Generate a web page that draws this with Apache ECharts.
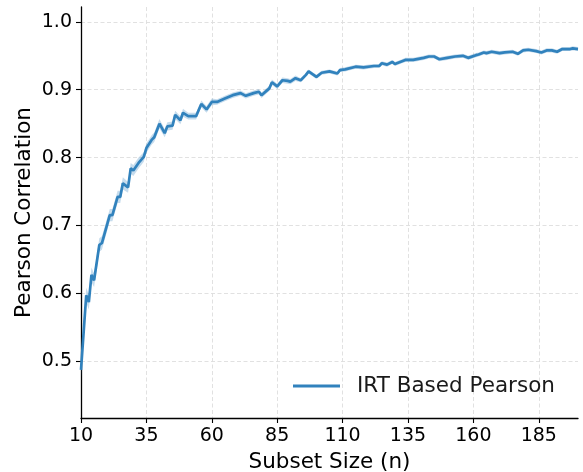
<!DOCTYPE html>
<html>
<head>
<meta charset="utf-8">
<script src="https://cdn.jsdelivr.net/npm/echarts@6/dist/echarts.min.js"></script>
<style>
html,body{margin:0;padding:0;background:#fff;}
#chart{width:583px;height:472px;}
</style>
</head>
<body>
<div id="chart"></div>
<script>
// Subset size n (x) and mean Pearson correlation (y)
const subsetSize = [10,12,13,14,15,17,18,21,22,24,25,26,28,29,30,32,34,35,37,38,40,42,43,45,46,48,49,51,54,55,56,58,60,62,65,68,71,73,76,78,79,82,83,85,87,89,90,92,94,96,97,100,102,105,108,109,111,115,118,122,124,125,127,129,130,132,134,137,141,143,145,147,150,153,156,158,161,162,164,165,167,170,172,175,177,179,181,184,186,188,190,192,194,197,198,200];
const pearson = [0.487,0.597,0.587,0.627,0.619,0.671,0.674,0.715,0.715,0.742,0.742,0.762,0.756,0.784,0.781,0.792,0.801,0.814,0.826,0.830,0.850,0.836,0.846,0.847,0.863,0.855,0.866,0.861,0.861,0.870,0.879,0.871,0.882,0.882,0.887,0.892,0.895,0.891,0.895,0.897,0.892,0.902,0.911,0.905,0.914,0.913,0.912,0.917,0.914,0.922,0.927,0.919,0.925,0.927,0.924,0.929,0.930,0.934,0.933,0.935,0.935,0.939,0.937,0.941,0.938,0.941,0.944,0.944,0.947,0.949,0.949,0.945,0.947,0.949,0.950,0.947,0.951,0.952,0.955,0.954,0.956,0.954,0.955,0.956,0.953,0.958,0.959,0.957,0.955,0.958,0.958,0.956,0.960,0.960,0.961,0.960];
// Half-width of the shaded confidence band (estimated)
const bandHalf = [0.011,0.011,0.011,0.011,0.010,0.010,0.010,0.009,0.009,0.009,0.009,0.009,0.008,0.008,0.008,0.008,0.007,0.007,0.007,0.007,0.007,0.006,0.006,0.006,0.006,0.006,0.006,0.005,0.005,0.005,0.005,0.005,0.005,0.004,0.004,0.004,0.004,0.004,0.004,0.004,0.004,0.004,0.004,0.004,0.004,0.004,0.004,0.004,0.003,0.003,0.003,0.003,0.003,0.003,0.003,0.003,0.003,0.003,0.003,0.003,0.003,0.003,0.003,0.003,0.003,0.003,0.003,0.003,0.003,0.003,0.003,0.003,0.003,0.003,0.003,0.003,0.003,0.003,0.003,0.003,0.003,0.003,0.003,0.003,0.003,0.003,0.003,0.003,0.003,0.003,0.003,0.003,0.003,0.003,0.003,0.003];
const xTicks = [10,35,60,85,110,135,160,185];
const seriesName = 'IRT Based Pearson';

const FONT = 'DejaVu Sans';
const BLUE = '#3182bd';

const lineData = subsetSize.map((x,i)=>[x,pearson[i]]);
const bandData = subsetSize.map((x,i)=>[x,pearson[i]-bandHalf[i],pearson[i]+bandHalf[i]]);

const chart = echarts.init(document.getElementById('chart'), null, {renderer:'canvas'});
chart.setOption({
  animation:false,
  backgroundColor:'#fff',
  grid:{left:81,right:5,top:7,bottom:54,containLabel:false,outerBoundsMode:'none'},
  xAxis:{
    type:'value', min:10, max:200, interval:25,
    name:'Subset Size (n)', nameLocation:'middle', nameGap:33,
    nameTextStyle:{fontFamily:FONT,fontSize:21.5,color:'#000'},
    axisLine:{show:true,onZero:false,lineStyle:{color:'#000',width:1.3}},
    axisTick:{show:true,length:5,lineStyle:{color:'#000',width:1.1}},
    axisLabel:{fontFamily:FONT,fontSize:19,color:'#000',margin:9,showMaxLabel:false,
      formatter:v=>xTicks.indexOf(v)>=0?String(v):''},
    splitLine:{show:true,showMinLine:false,showMaxLine:false,lineStyle:{color:'#dedede',width:0.9,type:[4,2.5]}}
  },
  yAxis:{
    type:'value', min:0.416, max:1.022, splitNumber:5,
    name:'Pearson Correlation', nameLocation:'middle', nameGap:46, nameMoveOverlap:false,
    nameTextStyle:{fontFamily:FONT,fontSize:21.5,color:'#000'},
    axisLine:{show:true,onZero:false,lineStyle:{color:'#000',width:1.3}},
    axisTick:{show:true,length:5,lineStyle:{color:'#000',width:1.1}},
    axisLabel:{fontFamily:FONT,fontSize:19,color:'#000',margin:9,showMinLabel:false,showMaxLabel:false,
      formatter:v=>v.toFixed(1)},
    splitLine:{show:true,showMinLine:false,showMaxLine:false,lineStyle:{color:'#dedede',width:0.9,type:[4,2.5]}}
  },
  legend:{
    left:293, top:375, padding:0,
    itemWidth:47, itemHeight:3,
    data:[{name:seriesName,icon:'rect'}],
    itemStyle:{color:BLUE},
    textStyle:{fontFamily:FONT,fontSize:21.5,color:'#1a1a1a',padding:[0,0,0,12]}
  },
  series:[
    {
      type:'custom', name:'band', silent:true, z:1,
      data:bandData,
      renderItem:function(params, api){
        if(params.dataIndex!==0) return null;
        const pts=[];
        for(let i=0;i<bandData.length;i++) pts.push(api.coord([bandData[i][0],bandData[i][2]]));
        for(let i=bandData.length-1;i>=0;i--) pts.push(api.coord([bandData[i][0],bandData[i][1]]));
        return {type:'polygon',shape:{points:pts},style:{fill:'rgba(49,130,189,0.28)',stroke:null}};
      },
      clip:true
    },
    {
      type:'line', name:seriesName, data:lineData, z:3,
      symbol:'none', smooth:false,
      lineStyle:{color:BLUE,width:2.7},
      itemStyle:{color:BLUE}
    }
  ]
});
</script>
</body>
</html>
